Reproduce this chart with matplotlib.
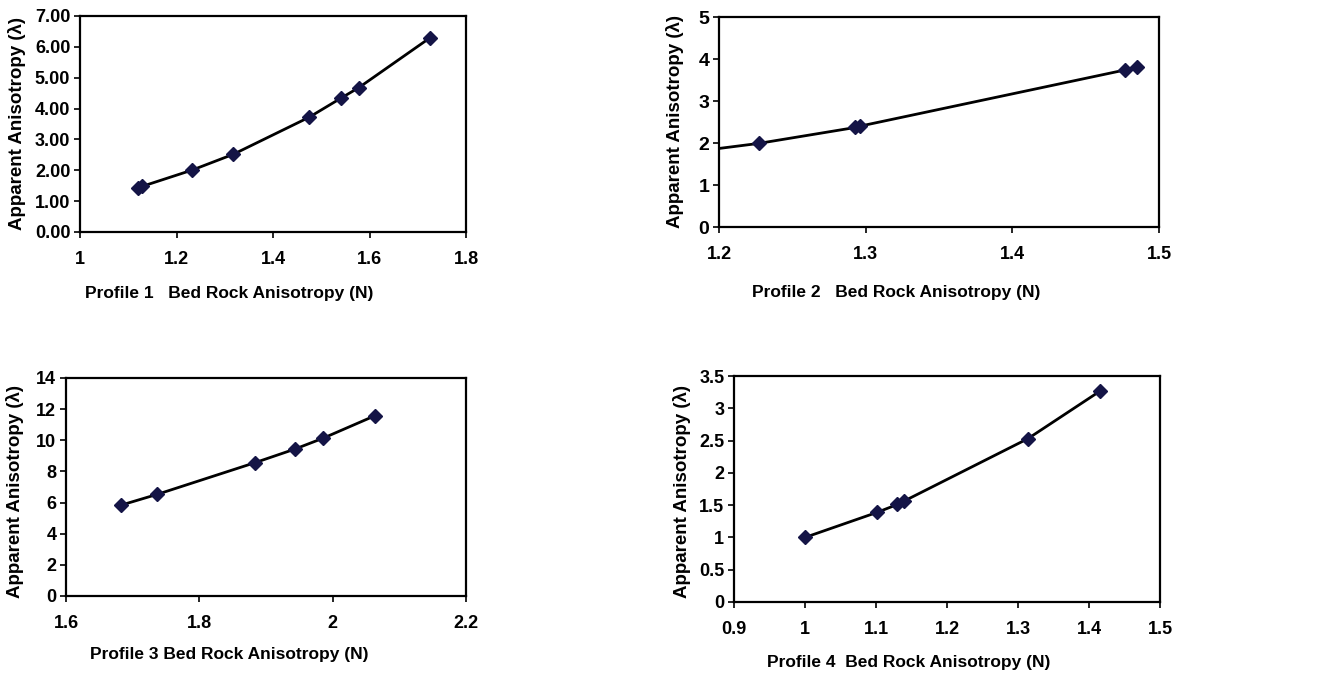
import matplotlib
matplotlib.use("Agg")
from matplotlib import pyplot as plt
from matplotlib.ticker import FuncFormatter, MultipleLocator

plt.rcParams["font.family"] = ["Liberation Sans", "DejaVu Sans"]
plt.rcParams["font.weight"] = "bold"

# Profile 1
p1_n = [1.120, 1.129, 1.233, 1.318, 1.475, 1.540, 1.578, 1.726]
p1_lam = [1.42, 1.48, 2.01, 2.52, 3.72, 4.33, 4.68, 6.30]

# Profile 2 (line enters from the left edge)
p2_line_n = [1.200, 1.227, 1.293, 1.296, 1.477, 1.485]
p2_line_lam = [1.87, 1.99, 2.37, 2.40, 3.74, 3.82]
p2_n = [1.227, 1.293, 1.296, 1.477, 1.485]
p2_lam = [1.99, 2.37, 2.40, 3.74, 3.82]

# Profile 3
p3_n = [1.683, 1.737, 1.884, 1.943, 1.986, 2.063]
p3_lam = [5.84, 6.53, 8.57, 9.43, 10.14, 11.57]

# Profile 4
p4_n = [1.000, 1.102, 1.130, 1.139, 1.314, 1.416]
p4_lam = [1.00, 1.39, 1.51, 1.56, 2.53, 3.27]

W, H = 1327, 677
fig = plt.figure(figsize=(W / 100, H / 100), dpi=100)


def box(l, t, r, b):
    return [l / W, 1 - b / H, (r - l) / W, (b - t) / H]


def style(ax, xlim, xstep, ylim, ystep, yfmt):
    ax.set_xlim(*xlim)
    ax.set_ylim(*ylim)
    ax.xaxis.set_major_locator(MultipleLocator(xstep))
    ax.yaxis.set_major_locator(MultipleLocator(ystep))
    ax.xaxis.set_major_formatter(FuncFormatter(lambda v, p: f"{v:g}"))
    ax.yaxis.set_major_formatter(FuncFormatter(yfmt))
    for s in ax.spines.values():
        s.set_linewidth(1.6)
    ax.tick_params(axis="x", direction="out", length=4, width=1.2, pad=10, labelsize=13)
    ax.tick_params(axis="y", direction="out", length=4, width=1.2, pad=3, labelsize=13)
    for lab in ax.get_xticklabels() + ax.get_yticklabels():
        lab.set_fontweight("bold")


def draw(ax, n, lam, line_n=None, line_lam=None):
    if line_n is None:
        line_n, line_lam = n, lam
    ax.plot(line_n, line_lam, color="black", lw=2, zorder=2)
    ax.plot(n, lam, ls="none", marker="D", ms=7, color="#141446", zorder=3)


ax1 = fig.add_axes(box(80, 16, 466, 232))
draw(ax1, p1_n, p1_lam)
style(ax1, (1, 1.8), 0.2, (0, 7), 1, lambda v, p: f"{v:.2f}")

ax2 = fig.add_axes(box(719, 17, 1159, 227))
draw(ax2, p2_n, p2_lam, p2_line_n, p2_line_lam)
style(ax2, (1.2, 1.5), 0.1, (0, 5), 1, lambda v, p: f"{v:g}")
ax2.tick_params(axis="y", labelsize=14)

ax3 = fig.add_axes(box(66, 378, 466, 596))
draw(ax3, p3_n, p3_lam)
style(ax3, (1.6, 2.2), 0.2, (0, 14), 2, lambda v, p: f"{v:g}")

ax4 = fig.add_axes(box(734, 376, 1160, 602))
draw(ax4, p4_n, p4_lam)
style(ax4, (0.9, 1.5), 0.1, (0, 3.5), 0.5, lambda v, p: f"{v:g}")

ylab = "Apparent Anisotropy (\u03bb)"
for x, y in [(17, 123), (675, 122), (15, 492), (682, 492)]:
    fig.text(x / W, 1 - y / H, ylab, rotation=90, ha="center", va="center",
             fontsize=13.5, fontweight="bold")

xlabs = [
    ("Profile 1   Bed Rock Anisotropy (N)", 85, 293),
    ("Profile 2   Bed Rock Anisotropy (N)", 752, 292),
    ("Profile 3 Bed Rock Anisotropy (N)", 90, 655),
    ("Profile 4  Bed Rock Anisotropy (N)", 767, 662),
]
for txt, x, y in xlabs:
    fig.text(x / W, 1 - y / H, txt, ha="left", va="center",
             fontsize=12.5, fontweight="bold")

fig.savefig("out.png", dpi=100)
